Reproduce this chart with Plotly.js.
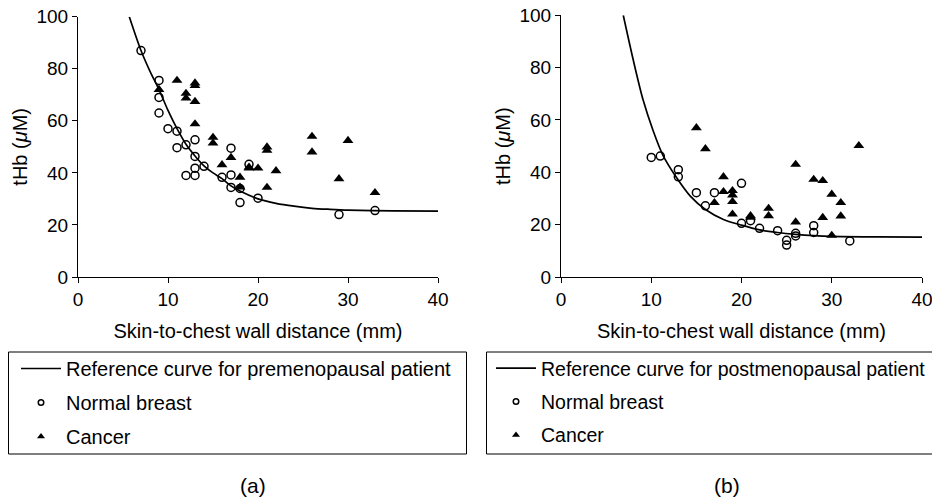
<!DOCTYPE html>
<html>
<head>
<meta charset="utf-8">
<script src="https://cdn.plot.ly/plotly-3.0.1.min.js"></script>
<style>
  html, body { margin: 0; padding: 0; background: #ffffff; }
  #chart { width: 932px; height: 500px; }
</style>
</head>
<body>
<div id="chart"></div>
<script>
// ---------- Panel (a): premenopausal ----------
const curveA_x = [5.7, 7, 8, 9, 10, 11, 12, 13, 14, 15, 16, 17, 18, 20, 22, 24, 26, 28, 30, 35, 40];
const curveA_y = [100, 87, 79, 72, 64, 57, 51, 46.5, 42.7, 40, 37.8, 35, 33, 30, 28.3, 27.2, 26.4, 26, 25.7, 25.4, 25.3];

const normalA_x = [7, 9, 9, 9, 10, 11, 11, 12, 12, 13, 13, 13, 13, 14, 16, 17, 17, 17, 18, 18, 19, 20, 29, 33];
const normalA_y = [87, 75.5, 69, 63, 57, 56, 49.7, 50.8, 39, 52.7, 46.3, 41.8, 39, 42.5, 38.3, 49.5, 39.2, 34.4, 28.6, 34, 43.3, 30.3, 24, 25.5];

const cancerA_x = [9, 11, 12, 12, 13, 13, 13, 13, 15, 15, 16, 17, 18, 18, 19, 19, 20, 21, 21, 21, 22, 26, 26, 29, 30, 33];
const cancerA_y = [72, 75.5, 70.5, 68.7, 74.5, 73.5, 67.4, 58.8, 53.6, 51.4, 43.1, 45.9, 38.3, 34.5, 41.8, 42.2, 41.8, 49.9, 48.6, 34.4, 40.8, 54, 48, 37.7, 52.4, 32.4];

// ---------- Panel (b): postmenopausal ----------
const curveB_x = [6.9, 8, 9.1, 10.2, 11.3, 12.8, 14.3, 16, 18, 20, 22, 24, 26, 28, 30, 35, 40];
const curveB_y = [100, 83, 67.6, 56, 46.5, 38, 31, 25.8, 22, 19.8, 18, 17, 16.3, 15.8, 15.5, 15.3, 15.2];

const normalB_x = [10, 11, 13, 13, 15, 16, 17, 20, 20, 21, 22, 24, 25, 25, 26, 26, 28, 28, 32];
const normalB_y = [45.7, 46.2, 41, 38.3, 32.2, 27.2, 32.2, 35.8, 20.5, 21.5, 18.6, 17.7, 14, 12.2, 16.7, 15.7, 19.6, 17, 13.8];

const cancerB_x = [15, 16, 17, 18, 18, 19, 19, 19, 19, 21, 21, 23, 23, 26, 26, 28, 29, 29, 30, 30, 31, 31, 33];
const cancerB_y = [57, 49, 28.4, 38.3, 32.6, 33, 31.3, 28.8, 24, 23.4, 22.8, 26.2, 23.4, 43, 21, 37.3, 36.8, 22.7, 31.6, 15.9, 28.4, 23.3, 50.2];

// ---------- Text ----------
const xTitle = 'Skin-to-chest wall distance (mm)';
const yTitle = 'tHb (<i>μ</i>M)';
const curveA_name = 'Reference curve for premenopausal patient';
const curveB_name = 'Reference curve for postmenopausal patient';
const normalName = 'Normal breast';
const cancerName = 'Cancer';
const panelLabels = ['(a)', '(b)'];

const FONT = 'Liberation Sans, Arial, Helvetica, sans-serif';
const lineStyle = { color: '#000', width: 1.7, shape: 'spline', smoothing: 0.8 };
const circleMarker = { symbol: 'circle-open', size: 8, color: '#000', line: { color: '#000', width: 1.5 } };
const triMarker = { symbol: 'triangle-up', size: 9.5, color: '#000', line: { width: 0 } };
const circleLegend = { symbol: 'circle-open', size: 5.5, color: '#000', line: { color: '#000', width: 1.5 } };
const triLegend = { symbol: 'triangle-up', size: 7, color: '#000', line: { width: 0 } };

function panelTraces(cx, cy, nx, ny, kx, ky, curveName, xa, ya, leg) {
  return [
    { type: 'scatter', mode: 'lines', x: cx, y: cy, xaxis: xa, yaxis: ya, line: lineStyle,
      name: curveName, legend: leg, legendgroup: leg + 'c', showlegend: true, hoverinfo: 'skip' },
    { type: 'scatter', mode: 'markers', x: nx, y: ny, xaxis: xa, yaxis: ya, marker: circleMarker,
      name: normalName, showlegend: false, cliponaxis: false },
    { type: 'scatter', mode: 'markers', x: kx, y: ky, xaxis: xa, yaxis: ya, marker: triMarker,
      name: cancerName, showlegend: false, cliponaxis: false },
    // legend-only entries with the smaller legend symbols (no data drawn)
    { type: 'scatter', mode: 'markers', x: [null], y: [null], xaxis: xa, yaxis: ya, marker: circleLegend,
      name: normalName, legend: leg, legendgroup: leg + 'n', showlegend: true, hoverinfo: 'skip' },
    { type: 'scatter', mode: 'markers', x: [null], y: [null], xaxis: xa, yaxis: ya, marker: triLegend,
      name: cancerName, legend: leg, legendgroup: leg + 'k', showlegend: true, hoverinfo: 'skip' }
  ];
}

const data = [
  ...panelTraces(curveA_x, curveA_y, normalA_x, normalA_y, cancerA_x, cancerA_y, curveA_name, 'x', 'y', 'legend'),
  ...panelTraces(curveB_x, curveB_y, normalB_x, normalB_y, cancerB_x, cancerB_y, curveB_name, 'x2', 'y2', 'legend2')
];

function xAxis(domain, anchor) {
  return {
    domain: domain, anchor: anchor, range: [0, 40], tickmode: 'array', tickvals: [0, 10, 20, 30, 40],
    showline: true, linecolor: '#000', linewidth: 1, mirror: false,
    ticks: 'outside', ticklen: 5, tickwidth: 1, tickcolor: '#000', ticklabeloverflow: 'allow',
    showgrid: false, zeroline: false, tickfont: { size: 19, color: '#000', family: FONT },
    title: { text: xTitle, font: { size: 20, color: '#000', family: FONT }, standoff: 15 },
    automargin: false, fixedrange: true
  };
}
function yAxis(domain, anchor) {
  return {
    domain: domain, anchor: anchor, range: [0, 100], tickmode: 'array', tickvals: [0, 20, 40, 60, 80, 100],
    showline: true, linecolor: '#000', linewidth: 1, mirror: false,
    ticks: 'outside', ticklen: 5, tickwidth: 1, tickcolor: '#000', ticklabeloverflow: 'allow',
    showgrid: false, zeroline: false, tickfont: { size: 19, color: '#000', family: FONT },
    title: { text: yTitle, font: { size: 20, color: '#000', family: FONT }, standoff: 3 },
    automargin: false, fixedrange: true
  };
}

const legendBase = {
  xanchor: 'left', yanchor: 'top', y: 0.302,
  borderwidth: 0, bgcolor: 'rgba(0,0,0,0)',
  font: { size: 20, color: '#000', family: FONT },
  traceorder: 'grouped', tracegroupgap: 5, itemwidth: 40, itemclick: false, itemdoubleclick: false
};

const boxLine = { color: '#000', width: 1 };
const layout = {
  width: 932, height: 500,
  margin: { l: 0, r: 0, t: 0, b: 0, pad: 0, autoexpand: false },
  paper_bgcolor: '#fff', plot_bgcolor: '#fff',
  font: { family: FONT, color: '#000' },
  showlegend: true,
  xaxis: xAxis([78 / 932, 438 / 932], 'y'),
  yaxis: yAxis([223 / 500, 483.3 / 500], 'x'),
  xaxis2: xAxis([561 / 932, 922 / 932], 'y2'),
  yaxis2: yAxis([223 / 500, 484.7 / 500], 'x2'),
  legend: Object.assign({}, legendBase, { x: 16 / 932 }),
  legend2: Object.assign({}, legendBase, { x: 491 / 932, font: { size: 19.5, color: '#000', family: FONT } }),
  shapes: [
    { type: 'rect', xref: 'paper', yref: 'paper', x0: 8.5 / 932, x1: 466.5 / 932, y0: 46 / 500, y1: 148 / 500, line: boxLine, fillcolor: 'rgba(0,0,0,0)' },
    { type: 'rect', xref: 'paper', yref: 'paper', x0: 486.5 / 932, x1: 945 / 932, y0: 46 / 500, y1: 148 / 500, line: boxLine, fillcolor: 'rgba(0,0,0,0)' }
  ],
  annotations: [
    { text: panelLabels[0], xref: 'paper', yref: 'paper', x: 253 / 932, y: 15 / 500,
      xanchor: 'center', yanchor: 'middle', showarrow: false, font: { size: 21, color: '#000', family: FONT } },
    { text: panelLabels[1], xref: 'paper', yref: 'paper', x: 727 / 932, y: 15 / 500,
      xanchor: 'center', yanchor: 'middle', showarrow: false, font: { size: 21, color: '#000', family: FONT } }
  ]
};

Plotly.newPlot('chart', data, layout, { staticPlot: true, displayModeBar: false });
</script>
</body>
</html>
